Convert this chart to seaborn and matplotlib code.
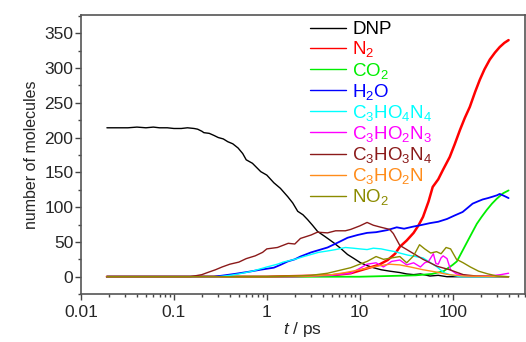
import numpy as np
import seaborn as sns
import matplotlib
matplotlib.use('Agg')
import matplotlib.pyplot as plt
from matplotlib.ticker import FixedLocator, FixedFormatter, MultipleLocator, LogLocator, NullFormatter

# DATE (t in ps, numar de molecule)
t_dnp = [0.019, 0.025, 0.032, 0.04, 0.05, 0.06, 0.07, 0.085, 0.1, 0.12, 0.14, 0.165, 0.18, 0.2,
         0.21, 0.24, 0.27, 0.3, 0.34, 0.38, 0.43, 0.49, 0.55, 0.6, 0.7, 0.86, 1.0, 1.19, 1.4, 1.68,
         1.9, 2.15, 2.45, 2.75, 3.1, 3.52, 4.2, 5.22, 6.2, 7.38, 8.7, 10.2, 12, 14, 17, 21, 27, 32,
         38, 45, 57, 70, 87, 120, 200, 400]
dnp = [214, 214, 214, 215, 214, 215, 214, 214, 213, 213, 214, 213, 212, 209,
       207, 206, 203, 200, 198, 194, 191, 185, 177, 168, 163, 151, 146, 135, 127, 115,
       106, 94, 89, 82, 74, 65, 58, 49, 41, 32, 26, 20, 16, 13, 10, 8, 6, 4,
       3, 4, 1, 2, 0, 0, 0, 0]

t_n2 = [0.019, 1, 5, 8, 12, 16, 20, 24, 27, 32, 38, 43, 48, 55, 61, 70, 79, 93, 105, 120, 135,
        153, 175, 196, 220, 251, 285, 321, 360, 400]
n2 = [0, 0, 2, 5, 12, 17, 24, 33, 43, 52, 63, 74, 86, 108, 129, 140, 154, 172, 190, 211, 228,
      244, 266, 283, 298, 312, 322, 330, 336, 340]

t_co2 = [0.019, 10, 20, 40, 60, 80, 100, 111, 125, 142, 160, 182, 205, 233, 265, 298, 350, 400]
co2 = [0, 0, 1, 2, 4, 8, 17, 22, 35, 49, 62, 76, 86, 96, 105, 112, 120, 124]

t_h2o = [0.019, 0.27, 0.35, 0.45, 0.63, 0.85, 1.19, 1.4, 1.68, 2.0, 2.3, 3.0, 4.5, 5.8, 7.4, 9.5,
         12, 15, 19.8, 25, 30, 37.6, 45, 57, 70, 87, 105, 128, 145, 164, 185, 210, 240, 269, 300,
         321, 360, 400]
h2o = [0, 0, 2, 4, 7, 10, 13, 17, 22, 25, 29, 35, 42, 49, 56, 60, 63, 64, 67, 71, 69, 72, 74, 77,
       79, 83, 88, 93, 99, 105, 108, 111, 113, 115, 117, 119, 116, 113]

t_c3ho4n4 = [0.019, 0.3, 0.4, 0.5, 0.7, 1.0, 1.3, 1.5, 2.0, 2.5, 3.0, 3.6, 4.5, 5.5, 7.0, 8.5,
             10, 12, 14, 17, 20, 24, 27, 33, 40, 48, 58, 68, 80, 93, 120, 400]
c3ho4n4 = [0, 0, 2, 4, 8, 14, 18, 21, 25, 29, 32, 35, 37, 39, 42, 41, 40, 39, 41, 40, 38, 36, 34,
           31, 29, 27, 20, 14, 6, 3, 0, 0]

t_c3ho2n3 = [0.019, 2, 5, 8, 10, 12, 15, 18, 22, 27, 32, 38, 45, 50, 55, 62, 66, 70, 75, 79, 87,
             95, 110, 150, 250, 330, 400]
c3ho2n3 = [0, 0, 2, 5, 12, 18, 20, 14, 22, 24, 17, 20, 14, 20, 22, 33, 19, 18, 27, 30, 26, 10, 4,
           1, 1, 3, 5]

t_c3ho3n4 = [0.019, 0.15, 0.2, 0.23, 0.28, 0.33, 0.4, 0.5, 0.6, 0.75, 0.9, 1.0, 1.3, 1.7, 2.0,
             2.3, 3.0, 3.5, 4.5, 5.5, 7.0, 8.0, 10, 12, 14, 17, 21, 23, 27, 35, 48, 68, 93, 130, 180,
             400]
c3ho3n4 = [0, 0, 3, 6, 10, 14, 18, 21, 26, 30, 35, 40, 42, 48, 47, 55, 60, 64, 63, 66, 66, 68,
           73, 78, 74, 71, 68, 62, 45, 36, 25, 15, 10, 3, 1, 0]

t_c3ho2n = [0.019, 1, 3, 5, 7, 10, 15, 21, 27, 35, 48, 65, 90, 130, 400]
c3ho2n = [0, 0, 1, 3, 6, 10, 15, 18, 17, 14, 10, 7, 3, 1, 0]

t_no2 = [0.019, 1, 2, 3, 4.5, 6, 8, 10, 12, 15, 18, 22, 27, 32, 38, 44, 50, 58, 67, 75, 85, 95,
         110, 130, 155, 190, 240, 300, 400]
no2 = [0, 0, 1, 2, 5, 9, 13, 18, 22, 29, 25, 27, 29, 20, 30, 46, 40, 34, 36, 33, 42, 40, 25, 20,
       14, 8, 4, 1, 0]

serii = [
    (t_dnp, dnp, 'DNP', 'black', 1.0),
    (t_n2, n2, r'N$_2$', '#ff0000', 1.8),
    (t_co2, co2, r'CO$_2$', '#00ee00', 1.3),
    (t_h2o, h2o, r'H$_2$O', '#0000ff', 1.3),
    (t_c3ho4n4, c3ho4n4, r'C$_3$HO$_4$N$_4$', '#00ffff', 1.0),
    (t_c3ho2n3, c3ho2n3, r'C$_3$HO$_2$N$_3$', '#ff00ff', 1.0),
    (t_c3ho3n4, c3ho3n4, r'C$_3$HO$_3$N$_4$', '#8b1a1a', 1.0),
    (t_c3ho2n, c3ho2n, r'C$_3$HO$_2$N', '#ff8c1a', 1.0),
    (t_no2, no2, r'NO$_2$', '#8b8b00', 1.0),
]

sns.set_style('ticks')
plt.rcParams['font.family'] = ['Liberation Sans', 'DejaVu Sans']
plt.rcParams['mathtext.fontset'] = 'custom'
plt.rcParams['mathtext.rm'] = 'Liberation Sans'
plt.rcParams['mathtext.it'] = 'Liberation Sans:italic'

fig = plt.figure(figsize=(5.26, 3.42), dpi=100)
ax = fig.add_axes([0.154, 0.140, 0.844, 0.816])

for t, v, nume, culoare, lw in serii:
    sns.lineplot(x=t, y=v, color=culoare, label=nume, linewidth=lw, ax=ax)

ax.set_xscale('log')
ax.set_xlim(0.01, 600)
ax.set_ylim(-25, 376)

ax.xaxis.set_major_locator(FixedLocator([0.01, 0.1, 1, 10, 100]))
ax.xaxis.set_major_formatter(FixedFormatter(['0.01', '0.1', '1', '10', '100']))
ax.xaxis.set_minor_locator(LogLocator(base=10, subs=np.arange(2, 10)))
ax.xaxis.set_minor_formatter(NullFormatter())
ax.yaxis.set_minor_locator(MultipleLocator(25))
ax.set_yticks([0, 50, 100, 150, 200, 250, 300, 350])

ax.tick_params(axis='both', which='major', direction='out', length=4, width=1,
               labelsize=12.5, color='#444444', pad=1.5)
ax.tick_params(axis='both', which='minor', direction='out', length=2, width=1, color='#444444')
ax.tick_params(axis='x', which='major', pad=4)
for s in ax.spines.values():
    s.set_color('#555555')
    s.set_linewidth(1.2)

ax.set_xlabel(r'$t$ / ps', fontsize=12.5, labelpad=0)
ax.set_ylabel('number of molecules', fontsize=11.5, labelpad=4)

leg = ax.legend(loc='upper left', bbox_to_anchor=(0.516, 0.978), frameon=False,
                fontsize=13.5, handlelength=1.9, handletextpad=0.35, labelspacing=0.06,
                borderpad=0, borderaxespad=0, labelcolor='linecolor')
for h in leg.get_lines():
    h.set_linewidth(1.0)

fig.savefig('out.png', dpi=100)
